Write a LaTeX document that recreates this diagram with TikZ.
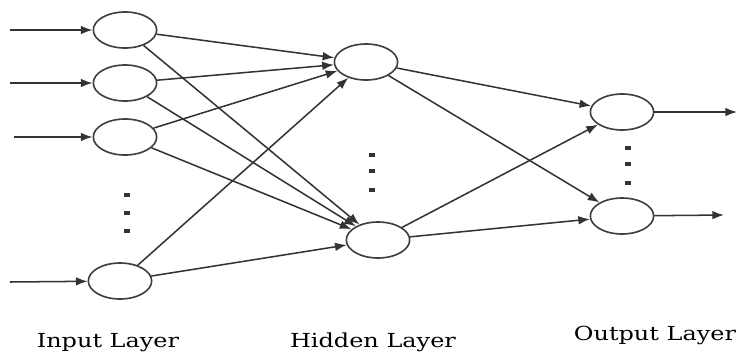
\documentclass[tikz,border=0pt]{standalone}
\usepackage{fontspec}
\setmainfont{DejaVu Serif}
\usepackage{tikz}
\usetikzlibrary{positioning,arrows.meta,shapes.geometric}

\begin{document}
\begin{tikzpicture}[
    x=0.03cm, y=-0.03cm,
    neuron/.style={draw=black!75, ellipse, line width=1.4pt, minimum width=1.9cm, minimum height=1.08cm, inner sep=0pt},
    arr/.style={-{Latex[length=3.5mm, width=2.6mm]}, line width=1.3pt, draw=black!80},
    dot/.style={fill=black!80, draw=none, minimum width=0.17cm, minimum height=0.11cm, inner sep=0pt},
    layer/.style={font=\fontsize{16.5}{20}\selectfont, anchor=base, inner sep=0pt, xscale=1.24, transform shape}
]
\useasboundingbox (0,0) rectangle (743,351);

% input layer
\node[neuron] (i1) at (125,30) {};
\node[neuron] (i2) at (125,83) {};
\node[neuron] (i3) at (125,137) {};
\node[neuron] (i4) at (120,281) {};
% hidden layer
\node[neuron] (h1) at (366,62) {};
\node[neuron] (h2) at (378,240) {};
% output layer
\node[neuron] (o1) at (622,112) {};
\node[neuron] (o2) at (622,216) {};

% dots
\foreach \yy in {195,213,231} \node[dot] (di\yy) at (127,\yy) {};
\foreach \yy in {155,171,190} \node[dot] (dh\yy) at (372,\yy) {};
\foreach \yy in {148,164,183} \node[dot] (do\yy) at (628,\yy) {};

% free ends
\coordinate (in1) at (10,30);
\coordinate (in2) at (10,83);
\coordinate (in3) at (14,137);
\coordinate (in4) at (10,282);
\coordinate (out1) at (737,112);
\coordinate (out2) at (724,215);

\foreach \n in {1,...,4} \draw[arr] (in\n) -- (i\n);
\foreach \n in {1,...,4}
  \foreach \m in {1,2}
    \draw[arr] (i\n) -- (h\m);
\foreach \n in {1,2}
  \foreach \m in {1,2}
    \draw[arr] (h\n) -- (o\m);
\draw[arr] (o1) -- (out1);
\draw[arr] (o2) -- (out2);

% labels
\node[layer] (inlabel) at (108,347) {Input Layer};
\node[layer] (hidlabel) at (373,347) {Hidden Layer};
\node[layer] (outlabel) at (655,340) {Output Layer};
\end{tikzpicture}
\end{document}
